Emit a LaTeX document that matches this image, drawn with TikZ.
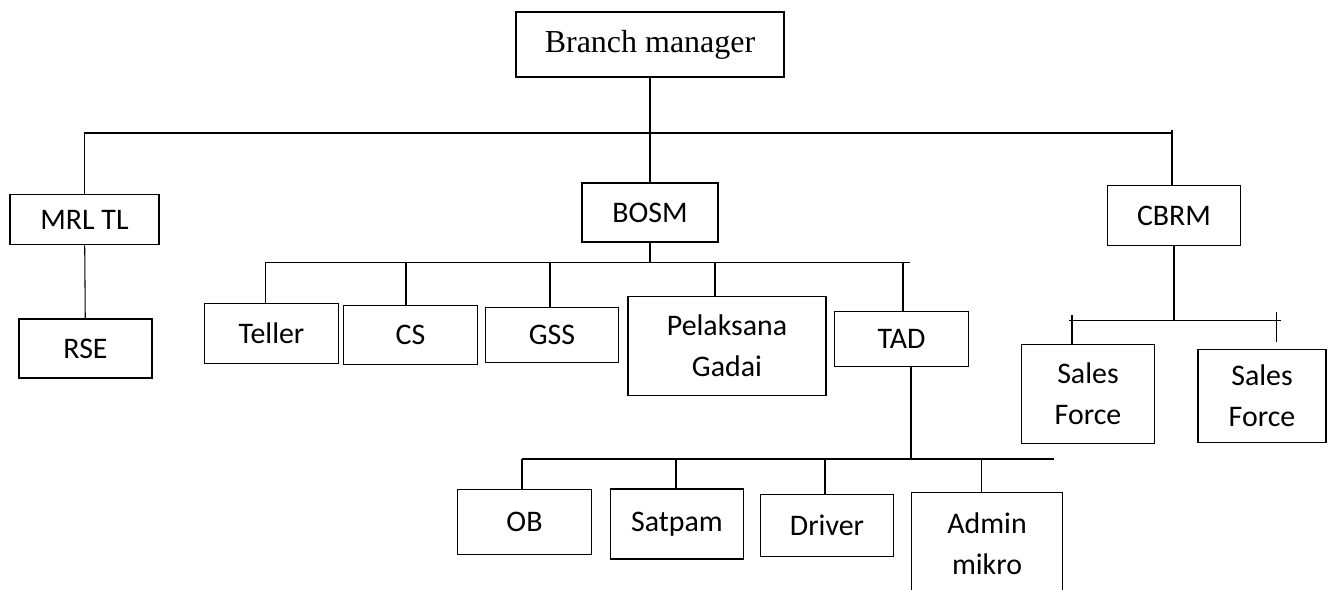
\documentclass[tikz,border=0pt]{standalone}
\usepackage{fontspec}
\setmainfont{Carlito}
\newfontfamily\bmfont{Liberation Serif}

\begin{document}
\begin{tikzpicture}[
        box/.style={draw, line width=0.8pt, inner sep=0pt, align=center,
            minimum width=2.67cm, minimum height=1.18cm,
            font=\fontsize{17}{23.5}\selectfont},
        link/.style={line width=0.6pt}]
    \useasboundingbox (0,0) rectangle (26.6,11.8);

    \node[box,minimum width=5.36cm,minimum height=1.3cm,font=\bmfont\fontsize{18.2}{20}\selectfont] (bm) at (13,10.91) {Branch manager};
    \node[box,minimum width=2.98cm,minimum height=1.01cm] (mrl) at (1.69,7.41) {MRL TL};
    \node[box,minimum width=2.66cm] (rse) at (1.71,4.83) {RSE};
    \node[box,minimum width=2.72cm] (bosm) at (13,7.55) {BOSM};
    \node[box,minimum height=1.19cm] (cbrm) at (23.48,7.49) {CBRM};

    \node[box,minimum height=1.21cm] (teller) at (5.43,5.13) {Teller};
    \node[box,minimum height=1.17cm] (cs) at (8.21,5.1) {CS};
    \node[box,minimum height=1.11cm] (gss) at (11.04,5.1) {GSS};
    \node[box,minimum width=3.96cm,minimum height=1.99cm] (pg) at (14.54,4.88) {Pelaksana\\Gadai};
    \node[box,minimum height=1.11cm] (tad) at (18.03,5.02) {TAD};

    \node[box,minimum height=1.98cm] (sf1) at (21.76,3.92) {Sales\\Force};
    \node[box,minimum width=2.56cm,minimum height=1.85cm] (sf2) at (25.24,3.88) {Sales\\Force};

    \node[box,minimum height=1.3cm] (ob) at (10.49,1.36) {OB};
    \node[box,minimum height=1.4cm] (satpam) at (13.54,1.32) {Satpam};
    \node[box,minimum height=1.25cm] (driver) at (16.54,1.29) {Driver};
    \node[box,minimum width=3.03cm,minimum height=2.05cm] (admin) at (19.74,0.93) {Admin\\mikro};

    % top level
    \coordinate (topR) at (23.44,9.14);
    \draw[link] (bm) -- (bosm);
    \draw[link] (mrl.north) |- (topR);
    \draw[link] ([yshift=0.06cm]topR) -- (topR |- cbrm.north);
    \draw[link] (mrl) -- (rse);

    % BOSM
    \coordinate (bosmR) at (18.2,6.55);
    \draw[link] (bosm) -- (bosm.south |- bosmR);
    \foreach \n/\x in {teller/5.31,cs/8.12,gss/11.0,pg/14.3,tad/18.06}{
        \coordinate (b-\n) at (\x,6.55);
        \draw[link] (b-\n) -- (b-\n |- \n.north);
    }
    \draw[link] (b-teller) -- (bosmR);

    % TAD
    \coordinate (tadbus) at (18.22,2.62);
    \coordinate (tadR) at (21.08,2.62);
    \draw[link] (tadbus |- tad.south) -- (tadbus);
    \foreach \n/\x in {ob/10.44,satpam/13.52,driver/16.5,admin/19.63}{
        \coordinate (t-\n) at (\x,2.62);
        \draw[link] (t-\n) -- (t-\n |- \n.north);
    }
    \draw[link] (t-ob) -- (tadR);

    % CBRM
    \coordinate (cbL) at (21.38,5.39);
    \coordinate (cbR) at (25.61,5.39);
    \coordinate (sfa) at (21.44,5.49);
    \coordinate (sfb) at (25.53,5.55);
    \draw[link] (cbrm) -- (cbrm.south |- cbL);
    \draw[link] (cbL) -- (cbR);
    \draw[link] (sfa) -- (sfa |- sf1.north);
    \draw[link] (sfb) -- ([yshift=0.15cm]sfb |- sf2.north);
\end{tikzpicture}
\end{document}
